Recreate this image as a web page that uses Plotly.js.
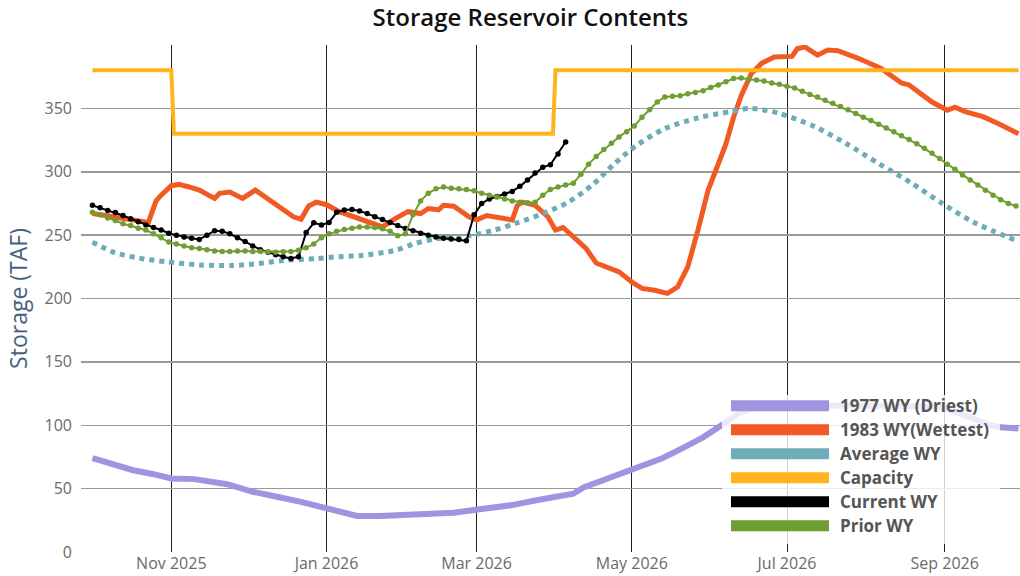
<!DOCTYPE html>
<html><head><meta charset="utf-8">
<script src="https://cdn.plot.ly/plotly-3.0.1.min.js"></script>
<style>html,body{margin:0;padding:0;background:#fff}</style>
</head><body><div id="chart" style="width:1020px;height:576px"></div>
<script>
// ---------- DATA ----------
const seriesNames = ['1977 WY (Driest)', '1983 WY(Wettest)', 'Average WY', 'Capacity', 'Current WY', 'Prior WY'];

const dryDates = ['2025-10-01','2025-10-08','2025-10-17','2025-10-25','2025-11-01','2025-11-10','2025-11-15','2025-11-23','2025-12-03','2025-12-08','2025-12-13','2025-12-22','2025-12-27','2026-01-01','2026-01-06','2026-01-13','2026-01-22','2026-02-05','2026-02-20','2026-03-03','2026-03-15','2026-03-25','2026-04-03','2026-04-08','2026-04-12','2026-04-20','2026-05-01','2026-05-13','2026-05-21','2026-05-29','2026-06-06','2026-06-12','2026-06-18','2026-06-25','2026-07-15','2026-08-05','2026-08-30','2026-09-06','2026-09-13','2026-09-19','2026-09-23','2026-09-30'];
const dryVals = [74,70,64.5,61.4,58,57.5,56,53.5,47.5,45,43.4,39.5,37,33.5,31.5,28.5,28.5,29.5,31,34,37,41,43.5,46,51,57,66,74,82,90.5,101,109.5,114,115.5,115.5,115.5,115,110,104,100,98.5,97.5];

const wetDates = ['2025-10-01','2025-10-10','2025-10-17','2025-10-23','2025-10-26','2025-10-28','2025-11-01','2025-11-04','2025-11-08','2025-11-12','2025-11-18','2025-11-20','2025-11-24','2025-11-29','2025-12-04','2025-12-08','2025-12-14','2025-12-19','2025-12-22','2025-12-25','2025-12-28','2026-01-01','2026-01-06','2026-01-15','2026-01-23','2026-01-28','2026-02-02','2026-02-07','2026-02-10','2026-02-14','2026-02-16','2026-02-20','2026-02-26','2026-03-01','2026-03-05','2026-03-15','2026-03-17','2026-03-19','2026-03-24','2026-03-29','2026-04-01','2026-04-04','2026-04-08','2026-04-13','2026-04-17','2026-04-21','2026-04-26','2026-05-01','2026-05-05','2026-05-10','2026-05-15','2026-05-19','2026-05-23','2026-05-27','2026-05-31','2026-06-03','2026-06-07','2026-06-10','2026-06-13','2026-06-17','2026-06-21','2026-06-26','2026-07-03','2026-07-05','2026-07-08','2026-07-13','2026-07-17','2026-07-21','2026-07-29','2026-08-07','2026-08-15','2026-08-18','2026-08-22','2026-08-27','2026-09-02','2026-09-05','2026-09-09','2026-09-16','2026-09-22','2026-09-30'];
const wetVals = [267,264,261.5,260,277,281.5,289,290,288,285.5,279,283,284,279,285.5,280,272,264.5,262.5,273,276,274,268.5,262,256.5,263,268.5,267,271,270,273.5,272.8,264.5,262,265.5,262,273.5,276,273.5,264.5,254,256,248.5,239.5,228,225,221,213,208,206.5,204,209,225,254,285.5,301,322,343,360,377.5,385.5,390.5,391,397,398.5,392,396,395.5,389.5,381.5,370,368.5,362,355,348.5,351,347.5,343.5,338,330];

const avgDates = ['2025-10-01','2025-10-10','2025-10-19','2025-10-30','2025-11-12','2025-11-25','2025-12-05','2025-12-15','2025-12-28','2026-01-06','2026-01-15','2026-01-28','2026-02-05','2026-02-13','2026-02-26','2026-03-08','2026-03-16','2026-03-27','2026-04-06','2026-04-16','2026-04-24','2026-05-03','2026-05-14','2026-05-27','2026-06-09','2026-06-17','2026-06-28','2026-07-12','2026-07-24','2026-08-06','2026-08-19','2026-08-31','2026-09-12','2026-09-30'];
const avgVals = [244.5,236,232,229,226.5,226,227.5,230,231.5,233,234,238,243.5,247,249.5,254,259,267,276,290.5,306,321,334,342.5,347.5,350,346,335.5,322.5,306.5,291,275,260.5,245];

const capDates = ['2025-10-01','2025-11-01','2025-11-02','2026-03-31','2026-04-01','2026-09-30'];
const capVals = [380,380,330,330,380,380];

// Current and prior water year: readings every 3 days starting 2025-10-01
const wyStart = '2025-10-01';
const wyStepDays = 3;
const currentVals = [273.5,271.5,269.5,267.8,265.5,263,260.5,258,256,254,251.5,
  250,248.5,247.5,246.5,250,253.5,253,251,248,245,
  241.5,238.5,236.5,234.5,233,231.5,233,252,259.7,258,
  260,268,269.8,270.2,269,267,264.5,262.3,260,257.5,
  255.2,253.5,251.5,250,248.5,247.5,247,246.5,245.5,266,
  275,278.5,280.5,282.5,284.5,288.5,293.5,299,303.5,305.5,
  314,323.5];
const priorVals = [268,266,263.5,261.5,259,257.5,255.5,254,251,248,244.5,
  243,241.5,240,239.5,238.5,237.5,237,237,237.5,237.5,
  237,237,236.8,236.5,236.8,237,238,240,243,248,
  251,253,254.5,255.5,256.5,256.5,256,255,253,249.5,
  251,266,277,283,286.5,288,287,286.5,286,285,
  283,281.5,280,278.5,277,276,275.5,276,281.5,286,
  288,289.5,291,298,306,312,317.5,322.5,327.5,331.5,
  336,343,349,355,359,359.5,360,361.5,362.5,364,
  366.5,368.5,371,373.5,374,373,372.3,371.5,370,369,
  367.5,366,363.5,361,359,356.5,354,351.5,349,346,343,
  340.5,337.5,334.5,331.5,328.5,325.5,322,318.5,314.5,310.5,
  306,302,297.5,293.5,289.5,285.5,281.5,278,275,273];

const yTicks = [0,50,100,150,200,250,300,350];

// ---------- HELPERS ----------
function stepDates(start, step, n) {
  const out = [];
  const d0 = new Date(start + 'T00:00:00Z');
  for (let i = 0; i < n; i++) {
    const d = new Date(d0.getTime() + i * step * 86400000);
    out.push(d.toISOString().slice(0, 10));
  }
  return out;
}
const currentDates = stepDates(wyStart, wyStepDays, currentVals.length);
const priorDates = stepDates(wyStart, wyStepDays, priorVals.length);

const colors = ['#a093e0', '#f25a24', '#6eadb7', '#ffb31c', '#000000', '#6f9f33'];

const traces = [
  {x: dryDates, y: dryVals, name: seriesNames[0], mode: 'lines', line: {color: colors[0], width: 6}},
  {x: wetDates, y: wetVals, name: seriesNames[1], mode: 'lines', line: {color: colors[1], width: 5}},
  {x: avgDates, y: avgVals, name: seriesNames[2], mode: 'lines', line: {color: colors[2], width: 5, dash: '5px,5px', shape: 'spline', smoothing: 0.8}},
  {x: capDates, y: capVals, name: seriesNames[3], mode: 'lines', line: {color: colors[3], width: 4}},
  {x: currentDates, y: currentVals, name: seriesNames[4], mode: 'lines+markers', line: {color: colors[4], width: 2}, marker: {color: colors[4], size: 5.5}},
  {x: priorDates, y: priorVals, name: seriesNames[5], mode: 'lines+markers', line: {color: colors[5], width: 2}, marker: {color: colors[5], size: 5.5}}
];

// plot area in pixels
const L = 81, T = 45, W = 939, H = 507;
const px = x => (x - L) / W;
const py = y => 1 - (y - T) / H;

const shapes = [{
  type: 'rect', xref: 'paper', yref: 'paper', layer: 'above',
  x0: px(722), x1: px(1000), y0: py(544), y1: py(395),
  fillcolor: 'rgba(255,255,255,0.8)', line: {width: 0}
}];
const annotations = [];
seriesNames.forEach((nm, i) => {
  const cy = 405.7 + i * 24;
  shapes.push({type: 'rect', xref: 'paper', yref: 'paper', layer: 'above',
    x0: px(731), x1: px(829), y0: py(cy + 5.5), y1: py(cy - 5.5),
    fillcolor: colors[i], line: {width: 0}});
  annotations.push({xref: 'paper', yref: 'paper', x: px(838), y: py(cy),
    xanchor: 'left', yanchor: 'middle', showarrow: false, text: nm,
    font: {family: 'Open Sans, sans-serif', size: 17, color: '#555555', weight: 700}});
});

const layout = {
  width: 1020, height: 576,
  margin: {l: L, r: 1020 - L - W, t: T, b: 576 - T - H},
  paper_bgcolor: '#ffffff', plot_bgcolor: '#ffffff',
  showlegend: false,
  font: {family: 'Open Sans, sans-serif'},
  title: {text: 'Storage Reservoir Contents', x: 0.52, xanchor: 'center', y: 1 - 18/576, yanchor: 'middle', yref: 'container',
    font: {size: 24, color: '#111111', weight: 600}},
  xaxis: {
    type: 'date', range: ['2025-09-26 12:00', '2026-09-30 14:00'],
    tick0: '2025-11-01', dtick: 'M2', tickformat: '%b %Y',
    showgrid: true, gridcolor: '#222222', gridwidth: 1,
    zeroline: false, showline: false, ticks: '',
    tickfont: {size: 16, color: '#6a6a6a'}
  },
  yaxis: {
    range: [0, 400], tickvals: yTicks, ticktext: yTicks.map(String),
    showgrid: true, gridcolor: '#9a9a9a', gridwidth: 1.5,
    zeroline: false, showline: false, ticks: '',
    ticklabelstandoff: 8,
    tickfont: {size: 16, color: '#6a6a6a'},
    title: {text: 'Storage (TAF)', standoff: 10, font: {size: 23, color: '#45617f'}}
  },
  shapes: shapes,
  annotations: annotations
};

Plotly.newPlot('chart', traces, layout, {displayModeBar: false, staticPlot: true});
</script></body></html>
